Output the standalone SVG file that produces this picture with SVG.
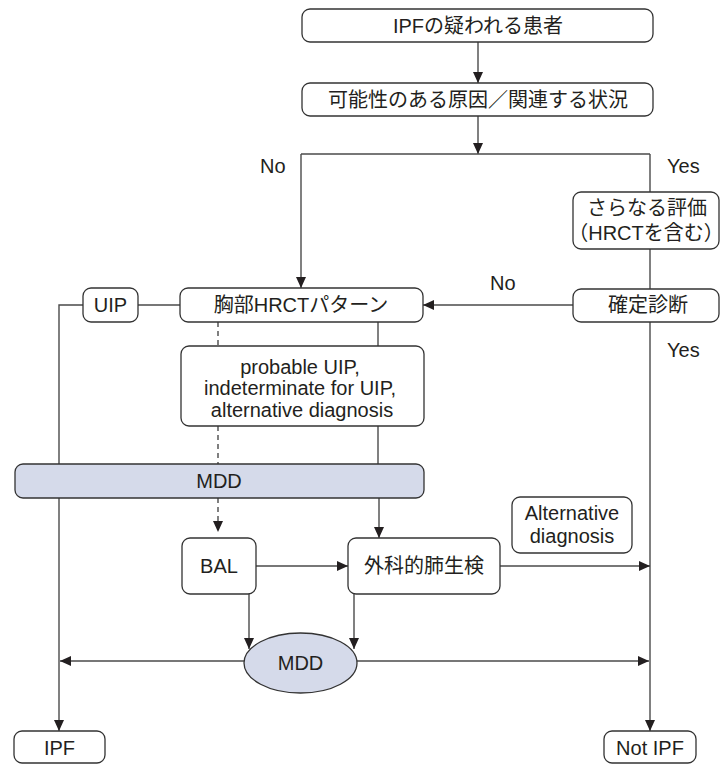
<svg xmlns="http://www.w3.org/2000/svg" width="720" height="765" viewBox="0 0 720 765">
<defs>
<marker id="ah" markerUnits="userSpaceOnUse" markerWidth="12" markerHeight="12" viewBox="0 0 12 12" refX="11" refY="6" orient="auto">
<path d="M0,1 L11,6 L0,11 Z" fill="#231f20"/>
</marker>
</defs>
<style>
text{font-family:"Liberation Sans","Noto Sans CJK JP",sans-serif;font-size:20px;fill:#231f20;text-anchor:middle}
.lbl{text-anchor:start}
.box{fill:#fff;stroke:#333;stroke-width:1.3}
.mdd{fill:#d5daea;stroke:#333;stroke-width:1.3}
.ln{fill:none;stroke:#4a4a4a;stroke-width:1.4}
.ar{fill:none;stroke:#4a4a4a;stroke-width:1.4;marker-end:url(#ah)}
.ds{fill:none;stroke:#4a4a4a;stroke-width:1.4;stroke-dasharray:5,4}
</style>
<rect width="720" height="765" fill="#fff"/>
<g id="connectors">
<line class="ar" x1="478" y1="42" x2="478" y2="83"/>
<line class="ar" x1="478" y1="116" x2="478" y2="154"/>
<polyline class="ln" points="301,154 650,154"/>
<line class="ar" x1="301" y1="154" x2="301" y2="288"/>
<line class="ln" x1="650" y1="154" x2="650" y2="192"/>
<line class="ln" x1="650" y1="249" x2="650" y2="289"/>
<line class="ar" x1="650" y1="322" x2="650" y2="731"/>
<line class="ar" x1="574" y1="305" x2="423" y2="305"/>
<line class="ln" x1="138" y1="305" x2="180" y2="305"/>
<polyline class="ln" points="83,305 59,305 59,464"/>
<line class="ar" x1="59" y1="498" x2="59" y2="731"/>
<line class="ds" x1="218" y1="322" x2="218" y2="346"/>
<line class="ds" x1="218" y1="426" x2="218" y2="464"/>
<line class="ds" x1="218" y1="498" x2="218" y2="532" marker-end="url(#ah)"/>
<line class="ln" x1="378" y1="322" x2="378" y2="346"/>
<line class="ln" x1="378" y1="426" x2="378" y2="464"/>
<line class="ar" x1="379" y1="498" x2="379" y2="538"/>
<line class="ar" x1="256" y1="566" x2="348" y2="566"/>
<line class="ar" x1="500" y1="566" x2="650" y2="566"/>
<line class="ar" x1="249" y1="594" x2="249" y2="649"/>
<line class="ar" x1="354" y1="594" x2="354" y2="649"/>
<line class="ar" x1="244" y1="661" x2="60" y2="661"/>
<line class="ar" x1="357" y1="661" x2="649" y2="661"/>
<text class="lbl" x="260" y="173">No</text>
<text class="lbl" x="667" y="173">Yes</text>
<text class="lbl" x="490" y="290">No</text>
<text class="lbl" x="667" y="357">Yes</text>
</g>
<g id="n-suspected">
<rect class="box" x="302" y="9" width="351" height="33" rx="8"/>
<text x="478" y="33">IPFの疑われる患者</text>
</g>
<g id="n-causes">
<rect class="box" x="302" y="83" width="351" height="33" rx="8"/>
<text x="478" y="107">可能性のある原因／関連する状況</text>
</g>
<g id="n-further">
<rect class="box" x="573" y="192" width="146" height="57" rx="8"/>
<text x="647" y="215">さらなる評価</text>
<text x="646" y="240" font-size="17">（HRCTを含む）</text>
</g>
<g id="n-confirmed">
<rect class="box" x="573" y="289" width="146" height="33" rx="8"/>
<text x="648" y="312">確定診断</text>
</g>
<g id="n-hrct">
<rect class="box" x="180" y="288" width="243" height="34" rx="8"/>
<text x="301" y="312">胸部HRCTパターン</text>
</g>
<g id="n-uip">
<rect class="box" x="83" y="288" width="55" height="34" rx="8"/>
<text x="110.5" y="312">UIP</text>
</g>
<g id="n-probable">
<rect class="box" x="181" y="346" width="243" height="80" rx="8"/>
<text x="300" y="374">probable UIP,</text>
<text x="300" y="395">indeterminate for UIP,</text>
<text x="302" y="417">alternative diagnosis</text>
</g>
<g id="n-mdd1">
<rect class="mdd" x="15" y="464" width="409" height="34" rx="8"/>
<text x="219" y="488">MDD</text>
</g>
<g id="n-alt">
<rect class="box" x="512" y="497" width="120" height="56" rx="8"/>
<text x="572" y="520">Alternative</text>
<text x="572" y="543">diagnosis</text>
</g>
<g id="n-bal">
<rect class="box" x="182" y="538" width="74" height="56" rx="8"/>
<text x="219" y="573">BAL</text>
</g>
<g id="n-biopsy">
<rect class="box" x="348" y="538" width="152" height="56" rx="8"/>
<text x="424" y="573">外科的肺生検</text>
</g>
<g id="n-mdd2">
<ellipse class="mdd" cx="300.5" cy="663" rx="56.5" ry="30"/>
<text x="300.5" y="670">MDD</text>
</g>
<g id="n-ipf">
<rect class="box" x="14" y="731" width="91" height="32" rx="8"/>
<text x="59.5" y="755">IPF</text>
</g>
<g id="n-notipf">
<rect class="box" x="604" y="731" width="92" height="32" rx="8"/>
<text x="650" y="755">Not IPF</text>
</g>
</svg>
